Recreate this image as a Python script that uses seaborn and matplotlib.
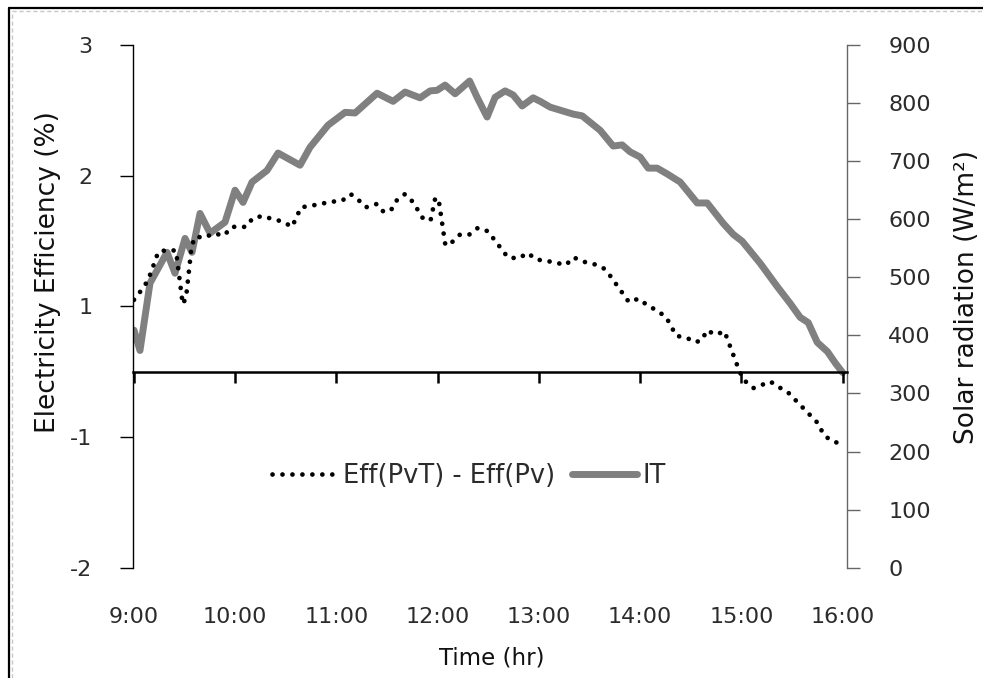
import matplotlib
matplotlib.use("Agg")
import matplotlib.pyplot as plt
from matplotlib.lines import Line2D
import pandas as pd
import seaborn as sns

# Eff(PvT) - Eff(Pv): time of day (decimal hours) and efficiency difference (%)
eff_time = [9.000, 9.066, 9.125, 9.168, 9.201, 9.240, 9.339, 9.415, 9.481, 9.514,
            9.570, 9.610, 9.695, 9.784, 9.889, 9.965, 10.107, 10.173, 10.272, 10.371,
            10.465, 10.561, 10.650, 10.729, 10.838, 10.947, 11.055, 11.141, 11.213, 11.292,
            11.398, 11.463, 11.537, 11.592, 11.675, 11.754, 11.866, 11.932, 11.977, 12.014,
            12.076, 12.142, 12.221, 12.313, 12.396, 12.495, 12.693, 12.797, 12.890, 12.972,
            13.061, 13.170, 13.266, 13.341, 13.440, 13.539, 13.638, 13.704, 13.888, 13.983,
            14.072, 14.168, 14.257, 14.356, 14.462, 14.544, 14.610, 14.659, 14.744, 14.833,
            14.982, 15.028, 15.120, 15.206, 15.285, 15.367, 15.460, 15.763, 15.806, 15.878,
            16.000]
eff_diff = [0.66, 0.74, 0.82, 0.91, 1.00, 1.10, 1.12, 1.11, 0.62, 0.68,
            1.16, 1.24, 1.23, 1.27, 1.25, 1.33, 1.33, 1.41, 1.43, 1.40,
            1.38, 1.33, 1.51, 1.52, 1.54, 1.56, 1.57, 1.63, 1.58, 1.51,
            1.54, 1.47, 1.48, 1.57, 1.63, 1.56, 1.39, 1.40, 1.60, 1.55,
            1.16, 1.19, 1.26, 1.26, 1.32, 1.29, 1.05, 1.04, 1.09, 1.03,
            1.02, 1.00, 0.98, 1.05, 1.01, 0.99, 0.95, 0.88, 0.64, 0.67,
            0.61, 0.56, 0.50, 0.33, 0.31, 0.27, 0.29, 0.38, 0.34, 0.37,
            0.00, -0.08, -0.15, -0.12, -0.09, -0.14, -0.19, -0.48, -0.57, -0.63,
            -0.67]

# Incident solar radiation IT (W/m2)
it_time = [9.000, 9.059, 9.158, 9.326, 9.405, 9.504, 9.573, 9.652, 9.751, 9.899,
           9.998, 10.077, 10.166, 10.314, 10.423, 10.640, 10.739, 10.917, 11.085, 11.184,
           11.401, 11.559, 11.678, 11.826, 11.925, 11.994, 12.073, 12.172, 12.315, 12.389,
           12.488, 12.567, 12.666, 12.745, 12.834, 12.943, 13.012, 13.111, 13.338, 13.427,
           13.605, 13.733, 13.822, 13.901, 14.000, 14.079, 14.168, 14.267, 14.395, 14.563,
           14.662, 14.820, 14.919, 15.008, 15.186, 15.354, 15.482, 15.581, 15.660, 15.749,
           15.850, 15.929, 16.000]
it_value = [409, 374, 490, 543, 507, 567, 543, 610, 576, 595,
            650, 629, 664, 684, 714, 693, 724, 762, 784, 783,
            817, 803, 819, 809, 821, 822, 831, 816, 838, 810,
            776, 810, 821, 814, 795, 809, 803, 793, 781, 778,
            753, 726, 728, 716, 707, 688, 688, 678, 664, 628,
            628, 593, 574, 562, 524, 484, 455, 431, 422, 388,
            372, 352, 336]

hour_ticks = [9, 10, 11, 12, 13, 14, 15, 16]
hour_labels = ["9:00", "10:00", "11:00", "12:00", "13:00", "14:00", "15:00", "16:00"]
eff_ticks = [-1.8, -0.6, 0.6, 1.8, 3.0]
eff_tick_labels = ["-2", "-1", "1", "2", "3"]
rad_ticks = [0, 100, 200, 300, 400, 500, 600, 700, 800, 900]

eff_df = pd.DataFrame({"time": eff_time, "diff": eff_diff})
it_df = pd.DataFrame({"time": it_time, "IT": it_value})

sns.set_style("white")
plt.rcParams["font.family"] = ["DejaVu Sans"]
text_color = "#2b2b2b"
FS = 16          # tick labels
FS_TITLE = 19    # vertical axis titles
FS_LEG = 18.5    # legend

W, H = 983, 678
fig = plt.figure(figsize=(W / 100, H / 100), dpi=100)
ax = fig.add_axes([133.3 / W, 1 - 567.7 / H, 713.4 / W, 522.7 / H])
ax2 = ax.twinx()

# radiation on the right axis, drawn underneath
sns.lineplot(data=it_df, x="time", y="IT", ax=ax2, color="#808080", linewidth=5.0,
             solid_joinstyle="round", solid_capstyle="round", estimator=None,
             label="IT", legend=False)
# efficiency difference as a round-dotted line on the left axis
sns.lineplot(data=eff_df, x="time", y="diff", ax=ax, color="black", linewidth=3.4,
             linestyle=(0, (0.01, 2.1)), dash_capstyle="round", estimator=None,
             label="Eff(PvT) - Eff(Pv)", legend=False)

ax.set_zorder(ax2.get_zorder() + 1)
ax.patch.set_visible(False)

ax.set_xlim(8.993, 16.04)
ax.set_ylim(-1.8, 3.0)
ax2.set_ylim(0, 900)

# left axis
ax.set_yticks(eff_ticks, labels=eff_tick_labels)
ax.spines["left"].set_color("black")
ax.spines["left"].set_linewidth(1.0)
ax.spines["top"].set_visible(False)
ax.spines["right"].set_visible(False)
ax.spines["bottom"].set_position(("data", 0))
ax.spines["bottom"].set_color("black")
ax.spines["bottom"].set_linewidth(1.8)
ax.tick_params(axis="y", direction="out", length=9.5, width=1.0, color="black",
               pad=20, labelsize=FS, labelcolor=text_color, left=True)
ax.set_xticks(hour_ticks)
ax.tick_params(axis="x", direction="out", length=8, width=1.8, color="black",
               labelbottom=False, bottom=True)

# time labels along the bottom edge of the plot
sec = ax.secondary_xaxis("bottom")
sec.set_xticks(hour_ticks, labels=hour_labels)
sec.spines["bottom"].set_visible(False)
sec.tick_params(axis="x", length=0, pad=28, labelsize=FS, labelcolor=text_color)

# right axis
for side in ("top", "left", "bottom"):
    ax2.spines[side].set_visible(False)
ax2.spines["right"].set_color("#666666")
ax2.spines["right"].set_linewidth(1.0)
ax2.set_yticks(rad_ticks)
ax2.tick_params(axis="y", direction="out", length=9, width=1.0, color="#666666",
                pad=21, labelsize=FS, labelcolor=text_color, right=True)

ax.set_xlabel("Time (hr)", fontsize=16.5, color="#111111")
ax.xaxis.set_label_coords(0.503, -0.150)
ax.set_ylabel("Electricity Efficiency (%)", fontsize=FS_TITLE, color="#111111")
ax.yaxis.set_label_coords(-0.102, 0.566)
ax2.set_ylabel("Solar radiation (W/m²)", fontsize=FS_TITLE, color="#111111")
ax2.yaxis.set_label_coords(1.150, 0.518)

handles = ax.get_lines()[:1] + ax2.get_lines()[:1]
fig.legend(handles=handles, labels=["Eff(PvT) - Eff(Pv)", "IT"], loc="center",
           bbox_to_anchor=(469 / W, 1 - 476 / H), ncol=2, frameon=False,
           fontsize=FS_LEG, handlelength=2.55, handletextpad=0.2, columnspacing=0.66,
           labelcolor=text_color)

# page frame
fig.add_artist(Line2D([9 / W, 1], [1 - 8 / H, 1 - 8 / H], transform=fig.transFigure,
                      color="black", linewidth=1.6))
fig.add_artist(Line2D([9 / W, 9 / W], [0, 1 - 8 / H], transform=fig.transFigure,
                      color="black", linewidth=1.6))
fig.add_artist(Line2D([12 / W, 1], [1 - 11 / H, 1 - 11 / H], transform=fig.transFigure,
                      color="#c8c8c8", linewidth=1.0, linestyle=(0, (3, 2))))
fig.add_artist(Line2D([12 / W, 12 / W], [0, 1 - 11 / H], transform=fig.transFigure,
                      color="#c8c8c8", linewidth=1.0, linestyle=(0, (3, 2))))

fig.savefig("out.png", dpi=100)
